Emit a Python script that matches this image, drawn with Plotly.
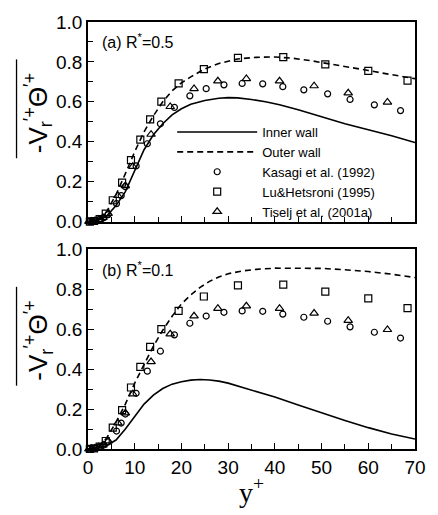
import plotly.graph_objects as go

# ---- DNS profiles, panel (a): R* = 0.5 ----
y_plus_a = [0, 2, 4, 6, 8, 10, 12, 14, 16, 18, 20, 22, 25, 28, 30, 32, 35, 38, 41,
            45, 50, 55, 60, 65, 70]
inner_a = [0, 0.004, 0.028, 0.08, 0.15, 0.255, 0.36, 0.435, 0.49, 0.535, 0.565, 0.588,
           0.607, 0.618, 0.621, 0.62, 0.612, 0.60, 0.585, 0.56, 0.525, 0.49, 0.46, 0.43, 0.396]

y_plus_a_out = [0, 2, 4, 6, 8, 10, 12, 14, 16, 18, 20, 22, 25, 28, 32, 36, 40, 44, 48,
                52, 56, 60, 64, 68, 70]
outer_a = [0, 0.01, 0.05, 0.135, 0.24, 0.35, 0.45, 0.53, 0.6, 0.655, 0.695, 0.725,
           0.765, 0.792, 0.815, 0.823, 0.825, 0.818, 0.805, 0.79, 0.775, 0.757, 0.74,
           0.723, 0.716]

# ---- DNS profiles, panel (b): R* = 0.1 ----
y_plus_b = [0, 2, 4, 6, 8, 10, 12, 14, 16, 18, 20, 22, 24, 26, 28, 30, 33, 36, 40,
            45, 50, 55, 60, 65, 70]
inner_b = [0, 0.005, 0.018, 0.045, 0.1, 0.165, 0.225, 0.27, 0.303, 0.325, 0.337, 0.345,
           0.348, 0.346, 0.34, 0.33, 0.31, 0.29, 0.26, 0.22, 0.18, 0.143, 0.107, 0.075, 0.05]
outer_b = [0, 0.008, 0.055, 0.135, 0.225, 0.33, 0.423, 0.515, 0.595, 0.665, 0.727, 0.772,
           0.81, 0.84, 0.862, 0.878, 0.892, 0.9, 0.906, 0.907, 0.905, 0.898, 0.889, 0.876,
           0.859]

# ---- Channel-flow reference data ----
kasagi_x = [0.3, 0.9, 1.6, 2.5, 3.4, 4.3, 6.1, 7.1, 8.0, 10.3, 12.7, 15.5, 18.5, 21.8,
            25.3, 29.1, 33.0, 37.4, 41.7, 46.2, 51.3, 56.1, 61.3, 66.9]
kasagi_y = [0.0, 0.001, 0.004, 0.01, 0.02, 0.035, 0.09, 0.13, 0.175, 0.279, 0.39, 0.49,
            0.572, 0.63, 0.666, 0.685, 0.692, 0.69, 0.676, 0.66, 0.64, 0.612, 0.585, 0.556]

lu_x = [0.4, 1.3, 2.5, 3.8, 5.3, 7.3, 9.2, 11.2, 13.3, 15.7, 19.4, 24.8, 32.1, 41.8,
        50.8, 60.0, 68.4]
lu_y = [0.0, 0.003, 0.012, 0.04, 0.107, 0.195, 0.308, 0.411, 0.512, 0.601, 0.692, 0.764,
        0.82, 0.824, 0.788, 0.755, 0.706]

tiselj_x = [0.2, 0.8, 1.5, 2.3, 3.2, 4.3, 6.4, 8.0, 9.6, 13.5, 17.6, 22.7, 27.8, 33.9,
            41.0, 48.4, 55.7, 64.1]
tiselj_y = [0.0, 0.001, 0.004, 0.01, 0.02, 0.04, 0.13, 0.18, 0.276, 0.437, 0.576, 0.666,
            0.704, 0.716, 0.704, 0.68, 0.644, 0.598]

x_ticks = [0, 10, 20, 30, 40, 50, 60, 70]
y_ticks = [0.0, 0.2, 0.4, 0.6, 0.8, 1.0]
panel_titles = ["(a) R<sup>*</sup>=0.5", "(b) R<sup>*</sup>=0.1"]

FONT = "Liberation Sans, Arial, sans-serif"
W, H = 438, 515
ML, MR, MT, MB = 88, 16, 13, 57
PW, PH = W - ML - MR, H - MT - MB

def px_x(px):
    return (px - ML) / PW

def px_y(py):
    return (H - MB - py) / PH

fig = go.Figure()

panels = [
    ("x", "y", y_plus_a, inner_a, y_plus_a_out, outer_a, True),
    ("x2", "y2", y_plus_b, inner_b, y_plus_b, outer_b, False),
]
for xa, ya, xi, yi, xo, yo, legend in panels:
    fig.add_trace(go.Scatter(x=xi, y=yi, mode="lines", name="Inner wall",
                             line=dict(color="black", width=1.6),
                             xaxis=xa, yaxis=ya, showlegend=legend))
    fig.add_trace(go.Scatter(x=xo, y=yo, mode="lines", name="Outer wall",
                             line=dict(color="black", width=1.6, dash="6px,4px"),
                             xaxis=xa, yaxis=ya, showlegend=legend))
    for nm, mx, my, sym, sz in [
        ("Kasagi et al. (1992)", kasagi_x, kasagi_y, "circle-open", 6),
        ("Lu&Hetsroni (1995)", lu_x, lu_y, "square-open", 7),
        ("Tiselj et al. (2001a)", tiselj_x, tiselj_y, "triangle-up-open", 7.5),
    ]:
        fig.add_trace(go.Scatter(x=mx, y=my, mode="markers", name=nm,
                                 marker=dict(symbol=sym, size=sz, color="black",
                                             line=dict(color="black", width=1.2)),
                                 cliponaxis=False,
                                 xaxis=xa, yaxis=ya, showlegend=legend))

axis_common = dict(
    showline=True, linecolor="black", linewidth=1.5, mirror=True,
    ticks="inside", ticklen=6, tickwidth=1.2, tickcolor="black",
    showgrid=False, zeroline=False,
    tickfont=dict(family=FONT, size=19, color="black"),
)
x_common = dict(axis_common, range=[0, 70], tickvals=x_ticks,
                minor=dict(dtick=5, ticks="inside", ticklen=5, tickwidth=1.2,
                           tickcolor="black", showgrid=False))
y_common = dict(axis_common, range=[0, 1.0], tickvals=y_ticks, tickformat=".1f",
                minor=dict(dtick=0.1, ticks="inside", ticklen=5, tickwidth=1.2,
                           tickcolor="black", showgrid=False))

top_lo = px_y(221)
bot_hi = px_y(250)

fig.update_layout(
    width=W, height=H,
    margin=dict(l=ML, r=MR, t=MT, b=MB),
    paper_bgcolor="white", plot_bgcolor="white",
    font=dict(family=FONT, color="black"),
    xaxis=dict(x_common, anchor="y", domain=[0, 1], showticklabels=False),
    yaxis=dict(y_common, anchor="x", domain=[top_lo, 1]),
    xaxis2=dict(x_common, anchor="y2", domain=[0, 1],
                title=dict(text="y<sup>+</sup>", standoff=6,
                           font=dict(family="Liberation Serif, Times New Roman, serif",
                                     size=28, color="black"))),
    yaxis2=dict(y_common, anchor="x2", domain=[0, bot_hi]),
    legend=dict(x=px_x(174), y=px_y(112), xanchor="left", yanchor="top",
                bgcolor="rgba(0,0,0,0)", borderwidth=0, itemwidth=80,
                font=dict(family=FONT, size=13, color="black"),
                tracegroupgap=0),
    showlegend=True,
)

# panel labels
for ttl, yp in zip(panel_titles, [px_y(33), px_y(270)]):
    fig.add_annotation(text=ttl, xref="paper", yref="paper", x=px_x(100), y=yp,
                       xanchor="left", yanchor="middle", showarrow=False,
                       font=dict(family=FONT, size=16, color="black"))

# rotated y-axis labels with an overline for the averaged correlation
ylabel = "-V<sub>r</sub><sup>\u2032+</sup>\u0398<sup>\u2032+</sup>"
for cy, (l0, l1) in [(108, (52, 155)), (345, (289, 392))]:
    fig.add_annotation(text=ylabel, xref="paper", yref="paper", x=px_x(37), y=px_y(cy),
                       xanchor="center", yanchor="middle", textangle=-90, showarrow=False,
                       font=dict(family=FONT, size=26, color="black"))
    fig.add_shape(type="line", xref="paper", yref="paper",
                  x0=px_x(15), x1=px_x(15), y0=px_y(l0), y1=px_y(l1),
                  line=dict(color="black", width=1.3))

fig.write_html("out.html")
